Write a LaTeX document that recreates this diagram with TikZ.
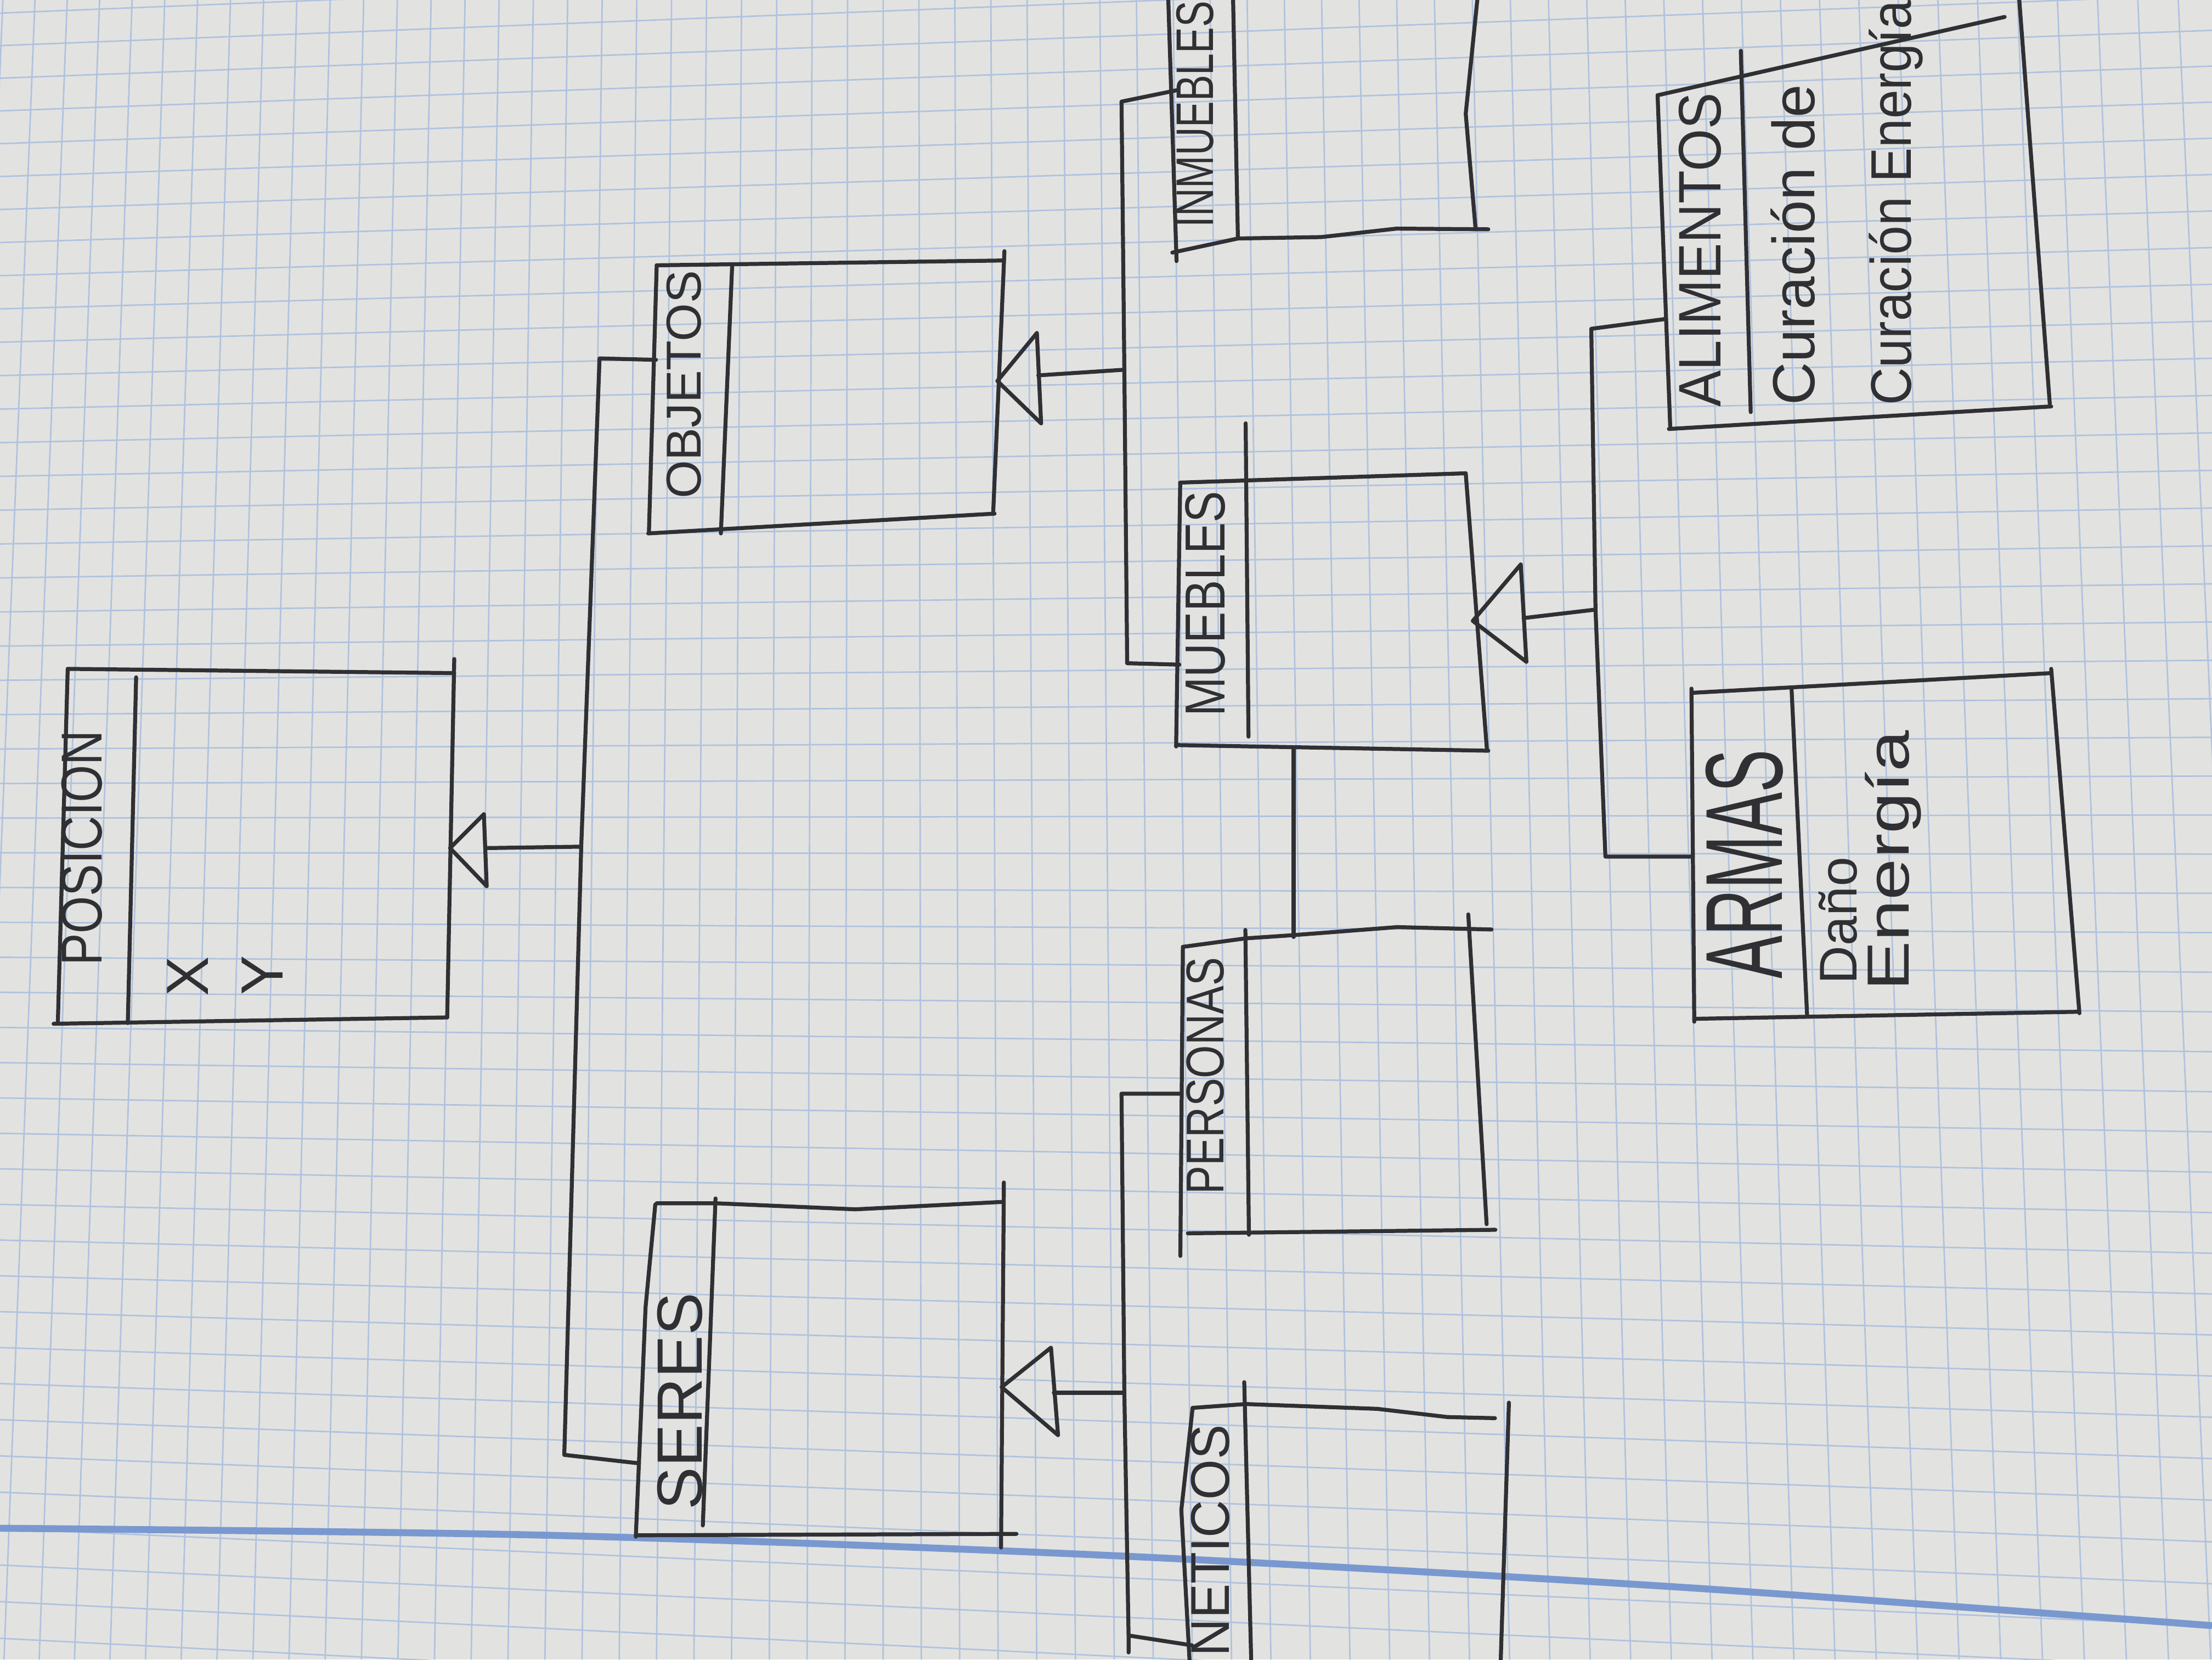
\documentclass[tikz,border=0pt]{standalone}
\usepackage{fontspec}
\usepackage{graphicx}
\setmainfont{Liberation Sans}
\definecolor{paper}{RGB}{226,227,224}
\definecolor{gridc}{RGB}{176,194,222}
\definecolor{marginblue}{RGB}{122,152,208}
\definecolor{ink}{RGB}{48,48,52}
\newcommand{\hw}[3]{{\fontsize{#1}{#1}\selectfont\scalebox{1}[#2]{#3}}}
\begin{document}
\begin{tikzpicture}[x=0.1mm,y=-0.1mm,
  pen/.style={draw=ink,line width=0.8pt,line cap=round,line join=round},
  gridline/.style={draw=gridc,line width=0.3pt},
  lbl/.style={rotate=90,inner sep=0pt,text=ink}]
\useasboundingbox (0,0) rectangle (1568,1176);
\clip (0,0) rectangle (1568,1176);
\fill[paper] (0,0) rectangle (1568,1176);
% ---------- graph paper ----------
\foreach \k in {-3,...,62}{
  \pgfmathsetmacro\xt{24.8+22.8*(\k)+0.05*(\k)*(\k)}
  \pgfmathsetmacro\xb{-22+24.8*(\k)+0.0448*(\k)*(\k)}
  \draw[gridline] (\xt,0) -- (\xb,1176);
}
\foreach \j in {-3,...,48}{
  \pgfmathsetmacro\yl{9.3+23*(\j)+0.032*(\j)*(\j)}
  \pgfmathsetmacro\yr{-54+25*(\j)+0.0548*(\j)*(\j)}
  \draw[gridline] (0,\yl) -- (1568,\yr);
}
\draw[marginblue,line width=1.4pt] plot[smooth] coordinates {(0,1083) (389,1088) (780,1102) (1179,1124) (1568,1152)};

% ---------- POSICION ----------
\coordinate (posTL) at (48,474);
\coordinate (posTR) at (322,477);
\coordinate (posRt) at (322,467);
\coordinate (posBR) at (317,721);
\coordinate (posBL) at (41,725);
\draw[pen] (posTL) -- (posTR);
\draw[pen] (posRt) -- (posBR);
\draw[pen] (38,725.5) -- (posBR);
\draw[pen] (posTL) -- (posBL);
\draw[pen] (96.5,480) -- (90.6,725);
\node[lbl] (tPos) at (58,601) {\hw{9.7pt}{1.2}{POSICION}};
\node[lbl] (tX) at (133,692) {\hw{12pt}{1}{X}};
\node[lbl] (tY) at (186,691) {\hw{12pt}{1}{Y}};
\coordinate (posApex) at (319,601);
\coordinate (posBT) at (343,577);
\coordinate (posBB) at (345,628);
\coordinate (posBM) at (344,601);
\draw[pen] (posApex) -- (posBT) -- (posBB) -- cycle;

% ---------- main trunk ----------
\coordinate (trA1) at (425,254);
\coordinate (trA2) at (412,600);
\coordinate (trA3) at (400,1031);
\coordinate (objIn) at (465,255);
\coordinate (serIn) at (453,1037);
\draw[pen] (posBM) -- (trA2);
\draw[pen] (objIn) -- (trA1) -- (trA2) -- (trA3) -- (serIn);

% ---------- OBJETOS ----------
\draw[pen] (465.5,188) -- (711,184.6);
\draw[pen] (712,178) -- (704,364);
\draw[pen] (459.5,378) -- (705,364);
\draw[pen] (465.5,188) -- (460,377);
\draw[pen] (519,188) -- (511,378);
\node[lbl] (tObj) at (485,272.6) {\hw{9.9pt}{1}{OBJETOS}};
\coordinate (objApex) at (707,270);
\coordinate (objBT) at (735,236);
\coordinate (objBB) at (738,300);
\coordinate (objBM) at (736,266);
\draw[pen] (objApex) -- (objBT) -- (objBB) -- cycle;

% ---------- trunk 2 ----------
\coordinate (trB1) at (795,72);
\coordinate (trB2) at (797,262);
\coordinate (trB3) at (799,470);
\coordinate (inmIn) at (834,64);
\coordinate (mueIn) at (836,471);
\draw[pen] (objBM) -- (trB2);
\draw[pen] (inmIn) -- (trB1) -- (trB2) -- (trB3) -- (mueIn);

% ---------- INMUEBLES ----------
\draw[pen] (828,-5) -- (834,185);
\draw[pen] (874,-5) -- (877.5,169);
\draw[pen] (831,179) -- (877.5,169) -- (936.6,168) -- (990,162) -- (1055,162.5);
\draw[pen] (1047.7,-5) -- (1039,80.6) -- (1046,162.5);
\node[lbl,anchor=west] (tInm) at (847,162) {\hw{7.9pt}{1.35}{INMUEBLES}};

% ---------- MUEBLES ----------
\draw[pen] (836.6,342) -- (1039,335.4);
\draw[pen] (1039,335.4) -- (1054,531);
\draw[pen] (833.7,528) -- (1055,532);
\draw[pen] (836.6,342) -- (833.7,529);
\draw[pen] (883,300) -- (885,522);
\node[lbl] (tMue) at (854.5,428) {\hw{9.5pt}{1.2}{MUEBLES}};
\coordinate (mueApex) at (1044,440);
\coordinate (mueBT) at (1078,400);
\coordinate (mueBB) at (1082,469);
\coordinate (mueBM) at (1080,438);
\draw[pen] (mueApex) -- (mueBT) -- (mueBB) -- cycle;

% ---------- trunk 3 ----------
\coordinate (trC1) at (1128,233);
\coordinate (trC2) at (1131,432);
\coordinate (trC3) at (1138,607);
\coordinate (aliIn) at (1181,226);
\coordinate (armIn) at (1200,607);
\draw[pen] (mueBM) -- (trC2);
\draw[pen] (aliIn) -- (trC1) -- (trC2) -- (trC3) -- (armIn);

% ---------- ALIMENTOS ----------
\draw[pen] (1175,67.5) -- (1184,304);
\draw[pen] (1175,67.5) -- (1421,12);
\draw[pen] (1431,-5) -- (1453,286);
\draw[pen] (1183,304) -- (1454,288);
\draw[pen] (1234,36) -- (1241,292);
\node[lbl] (tAli) at (1205,177) {\hw{11pt}{1.1}{ALIMENTOS}};
\node[lbl,anchor=west] (tCur1) at (1271,288) {\hw{12pt}{1}{Curación de}};
\node[lbl,anchor=west] (tCur2) at (1344,288) {\hw{10.5pt}{1.1}{Curación Energía}};

% ---------- ARMAS ----------
\draw[pen] (1199,491) -- (1454,477);
\draw[pen] (1199,488) -- (1201,724);
\draw[pen] (1201,722) -- (1473,717);
\draw[pen] (1454,474) -- (1474,718);
\draw[pen] (1270,489) -- (1281,720);
\node[lbl] (tArm) at (1236.5,612.5) {\hw{13pt}{1.7}{ARMAS}};
\node[lbl,anchor=west] (tDan) at (1303,698) {\hw{10.7pt}{1}{Daño}};
\node[lbl,anchor=west] (tEne) at (1342,703) {\hw{15pt}{0.8}{Energía}};

% ---------- MUEBLES -- PERSONAS ----------
\coordinate (mueBot) at (917,531);
\coordinate (perTop) at (917,664);
\draw[pen] (mueBot) -- (perTop);

% ---------- PERSONAS ----------
\draw[pen] (838.5,671) -- (882.8,665) -- (916.7,662.7) -- (990.4,657) -- (1057.3,658.7);
\draw[pen] (838.5,671) -- (836.7,890);
\draw[pen] (882.8,659) -- (885.3,875);
\draw[pen] (1040.8,648) -- (1053.8,867.5);
\draw[pen] (842,874) -- (1060,871.5);
\node[lbl] (tPer) at (854.5,762.5) {\hw{8.6pt}{1.25}{PERSONAS}};

% ---------- SERES ----------
\draw[pen] (465.5,852.7) -- (507.2,852.7) -- (606.4,857) -- (709.6,851.8);
\draw[pen] (711.6,838) -- (709.6,1096.7);
\draw[pen] (451.7,1088) -- (720.5,1087);
\draw[pen] (464.5,853.6) -- (457.6,926.5) -- (450.7,1089);
\draw[pen] (507.2,849.3) -- (498.2,1081);
\node[lbl] (tSer) at (482,993) {\hw{12.9pt}{1}{SERES}};
\coordinate (serApex) at (710,983);
\coordinate (serBT) at (745,955);
\coordinate (serBB) at (750,1017);
\coordinate (serBM) at (747,987);
\draw[pen] (serApex) -- (serBT) -- (serBB) -- cycle;

% ---------- trunk 4 ----------
\coordinate (trD1) at (795,775);
\coordinate (trD2) at (797,987);
\coordinate (trD3) at (800,1159);
\coordinate (trD4) at (800,1171);
\coordinate (perIn) at (837,775);
\coordinate (genIn) at (845,1166);
\draw[pen] (serBM) -- (trD2);
\draw[pen] (perIn) -- (trD1) -- (trD2) -- (trD3) -- (trD4);
\draw[pen] (trD3) -- (genIn);

% ---------- ...NETICOS ----------
\draw[pen] (845.4,997.7) -- (883,995) -- (976.3,998.4) -- (1026,1004.2) -- (1059.7,1005);
\draw[pen] (845.4,997.7) -- (837.4,1070) -- (843.4,1180);
\draw[pen] (882,979.5) -- (887,1180);
\draw[pen] (1069.6,994) -- (1063.7,1180);
\node[lbl,anchor=east] (tGen) at (858,1009) {\hw{10.5pt}{1.05}{NETICOS}};
\end{tikzpicture}
\end{document}
